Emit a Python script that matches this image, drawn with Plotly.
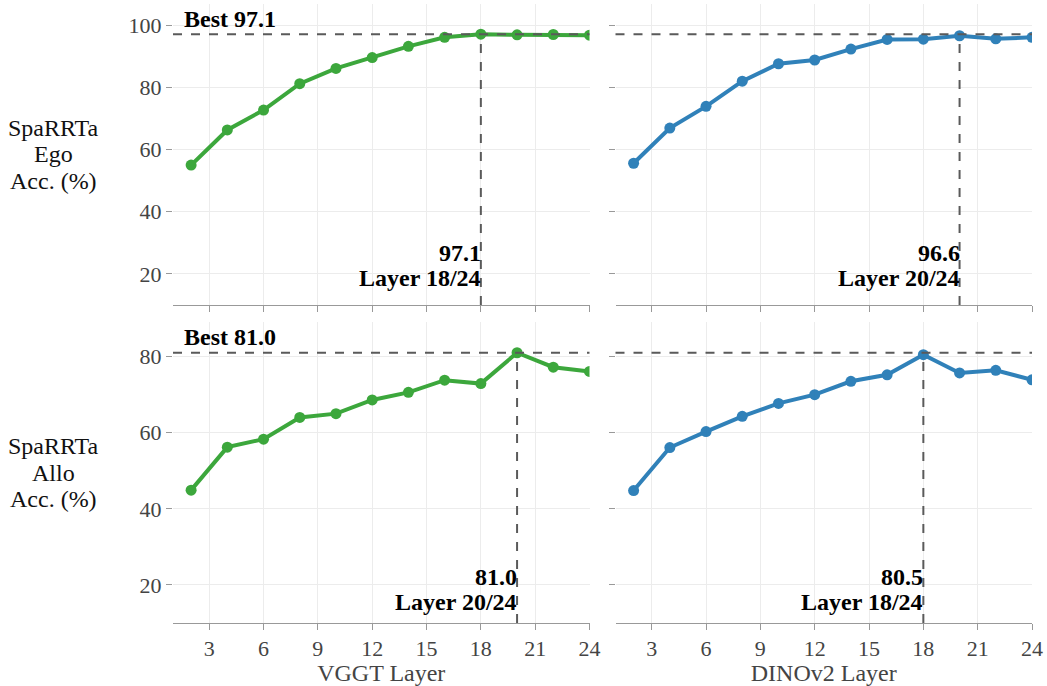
import plotly.graph_objects as go
from plotly.subplots import make_subplots

layers = [2, 4, 6, 8, 10, 12, 14, 16, 18, 20, 22, 24]
ego_vggt = [55.0, 66.3, 72.7, 81.2, 86.1, 89.6, 93.2, 96.1, 97.1, 96.9, 97.0, 96.8]
ego_dino = [55.6, 66.9, 73.9, 82.0, 87.6, 88.8, 92.3, 95.4, 95.5, 96.6, 95.6, 96.1]
allo_vggt = [44.9, 56.2, 58.3, 64.0, 65.0, 68.6, 70.6, 73.8, 72.9, 81.0, 77.2, 76.1]
allo_dino = [44.8, 56.1, 60.3, 64.3, 67.7, 70.0, 73.5, 75.2, 80.5, 75.7, 76.4, 73.9]
total_layers = 24

row_names = ["Ego", "Allo"]
col_names = ["VGGT Layer", "DINOv2 Layer"]
green = "#2ca02c"
blue = "#1f77b4"
colors = [green, blue]
data = [[ego_vggt, ego_dino], [allo_vggt, allo_dino]]

W, H = 1047, 686
ML, MR, MT, MB = 173, 15, 4, 58
PW, PH = W - ML - MR, H - MT - MB
FONT = "Liberation Serif"


def px_x(p):
    return (p - ML) / PW


def px_y(p):
    return (H - MB - p) / PH


fig = make_subplots(rows=2, cols=2, shared_xaxes=True, shared_yaxes=True,
                    horizontal_spacing=26 / PW, vertical_spacing=17 / PH)

row_centers = [155.5, 476.5]
label_off = [(52, 27), (46, 21)]

for r in range(2):
    row_best = max(max(data[r][0]), max(data[r][1]))
    for c in range(2):
        vals = data[r][c]
        fig.add_trace(go.Scatter(x=layers, y=vals, mode="lines+markers",
                                 line=dict(color=colors[c], width=4),
                                 marker=dict(color=colors[c], size=11),
                                 opacity=0.92, showlegend=False),
                      row=r + 1, col=c + 1)
        best = max(vals)
        best_layer = layers[vals.index(best)]
        n = r * 2 + c + 1
        sfx = "" if n == 1 else str(n)
        fig.add_shape(type="line", xref=f"x{sfx} domain", yref=f"y{sfx}",
                      x0=0, x1=1, y0=row_best, y1=row_best,
                      line=dict(color="#5a5a5a", width=2, dash="dash"))
        fig.add_shape(type="line", xref=f"x{sfx}", yref=f"y{sfx}",
                      x0=best_layer, x1=best_layer, y0=10, y1=row_best,
                      line=dict(color="#5a5a5a", width=2, dash="dash"))
        fig.add_annotation(xref=f"x{sfx}", yref=f"y{sfx} domain",
                           x=best_layer, y=0, xanchor="right", yanchor="middle",
                           yshift=label_off[r][0], xshift=2, showarrow=False,
                           text=f"<b>{best:.1f}</b>",
                           font=dict(family=FONT, size=24, color="black"))
        fig.add_annotation(xref=f"x{sfx}", yref=f"y{sfx} domain",
                           x=best_layer, y=0, xanchor="right", yanchor="middle",
                           yshift=label_off[r][1], xshift=2, showarrow=False,
                           text=f"<b>Layer {best_layer}/{total_layers}</b>",
                           font=dict(family=FONT, size=24, color="black"))
        if c == 0:
            fig.add_annotation(xref=f"x{sfx} domain", yref=f"y{sfx}",
                               x=0, y=row_best, xanchor="left", yanchor="middle",
                               xshift=9, yshift=15.5, showarrow=False,
                               text=f"<b>Best {row_best:.1f}</b>",
                               font=dict(family=FONT, size=24, color="black"))
    for i, line in enumerate(["SpaRRTa", row_names[r], "Acc. (%)"]):
        fig.add_annotation(xref="paper", yref="paper", x=px_x(53),
                           y=px_y(row_centers[r] + (i - 1) * 26.5),
                           xanchor="center", yanchor="middle", showarrow=False,
                           text=line, font=dict(family=FONT, size=24, color="#111111"))
    fig.update_yaxes(range=[10, row_best * 1.1], row=r + 1)

fig.update_xaxes(range=[1, 24], tick0=0, dtick=3, showgrid=True, gridcolor="#ececec",
                 gridwidth=1, zeroline=False, showline=True, linecolor="#999999",
                 linewidth=1, ticks="outside", ticklen=6, tickcolor="#999999",
                 tickfont=dict(family=FONT, size=22, color="#444444"))
fig.update_yaxes(tick0=0, dtick=20, showgrid=True, gridcolor="#ececec", gridwidth=1,
                 zeroline=False, showline=False, ticks="outside", ticklen=6,
                 tickcolor="#999999",
                 tickfont=dict(family=FONT, size=22, color="#444444"))
for c in range(2):
    fig.update_xaxes(title=dict(text=col_names[c], standoff=4,
                                font=dict(family=FONT, size=24, color="#444444")),
                     row=2, col=c + 1)

fig.update_layout(width=W, height=H, margin=dict(l=ML, r=MR, t=MT, b=MB),
                  plot_bgcolor="white", paper_bgcolor="white",
                  font=dict(family=FONT))

fig.write_html("out.html")
